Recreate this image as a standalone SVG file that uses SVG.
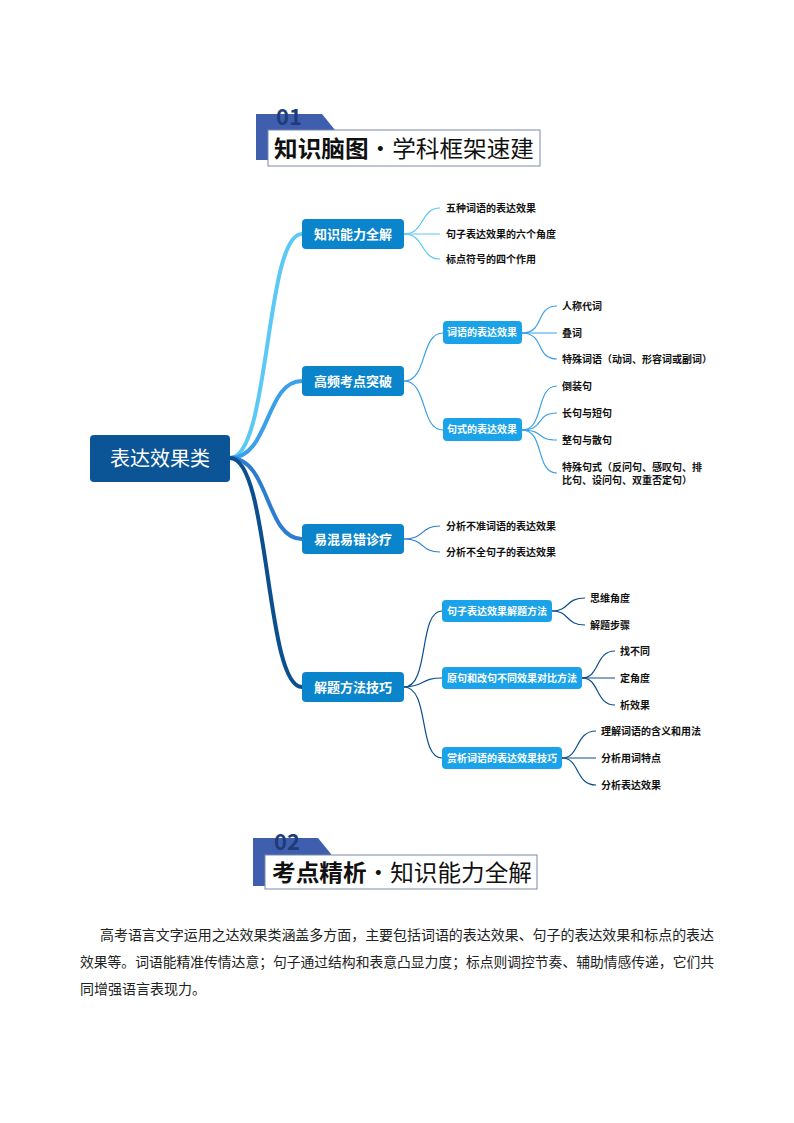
<svg xmlns="http://www.w3.org/2000/svg" width="794" height="1123" viewBox="0 0 794 1123">
<style>
text{font-family:"Noto Sans CJK SC","Noto Sans",sans-serif}
.l1{fill:#0A84CB}
.l2{fill:#1AA3E8}
.t1{fill:#fff;font-size:13px;font-weight:bold}
.t2{fill:#fff;font-size:10px;font-weight:bold}
.lf{fill:#111;font-size:10px;font-weight:bold}
.c{fill:none}
.hd{font-size:23px;fill:#111}
.p{font-size:14px;fill:#222}
</style>
<rect width="794" height="1123" fill="#fff"/>
<g id="header1">
<polygon points="256,114 322,114 335,130 335,160 256,160" fill="#3F5FAE"/>
<text x="276" y="125" font-size="22" font-weight="bold" fill="#1F3C7A" font-family="Liberation Sans,sans-serif">01</text>
<rect x="268" y="130" width="272" height="36" fill="#fff" stroke="#7A8AA8"/>
<text x="274" y="157" class="hd" textLength="260" lengthAdjust="spacingAndGlyphs"><tspan font-weight="bold">知识脑图</tspan>·学科框架速建</text>
</g>
<g id="connectors">
<path class="c" d="M230,458 C270,458 265,234 302,234" stroke="#5CC8F5" stroke-width="4"/>
<path class="c" d="M230,458 C270,458 265,381 302,381" stroke="#3AA0EA" stroke-width="4"/>
<path class="c" d="M230,458 C270,458 265,539 302,539" stroke="#2C7DD0" stroke-width="4"/>
<path class="c" d="M230,458 C270,458 265,687 302,687" stroke="#0B4F8F" stroke-width="4"/>
<g stroke="#5CC8F5" stroke-width="1.2">
<path class="c" d="M404,234 C425,234 420,208 440,208"/>
<path class="c" d="M404,234 L440,234"/>
<path class="c" d="M404,234 C425,234 420,259 440,259"/>
</g>
<g stroke="#3AA0EA" stroke-width="1.2">
<path class="c" d="M404,381 C428,381 420,333 443,333"/>
<path class="c" d="M404,381 C428,381 420,430 443,430"/>
<path class="c" d="M522,333 C545,333 535,306 557,306"/>
<path class="c" d="M522,333 L557,333"/>
<path class="c" d="M522,333 C545,333 535,359 557,359"/>
<path class="c" d="M522,430 C545,430 535,386 557,386"/>
<path class="c" d="M522,430 C545,430 535,413 557,413"/>
<path class="c" d="M522,430 C545,430 535,440 557,440"/>
<path class="c" d="M522,430 C545,430 535,473 557,473"/>
</g>
<g stroke="#2C7DD0" stroke-width="1.2">
<path class="c" d="M404,539 C425,539 420,526 440,526"/>
<path class="c" d="M404,539 C425,539 420,552 440,552"/>
</g>
<g stroke="#0B4F8F" stroke-width="1.2">
<path class="c" d="M404,687 C430,687 418,611 442,611"/>
<path class="c" d="M404,687 C425,687 420,678 442,678"/>
<path class="c" d="M404,687 C430,687 418,758 442,758"/>
<path class="c" d="M552,611 C570,611 565,598 585,598"/>
<path class="c" d="M552,611 C570,611 565,625 585,625"/>
<path class="c" d="M582,678 C600,678 595,651 615,651"/>
<path class="c" d="M582,678 L615,678"/>
<path class="c" d="M582,678 C600,678 595,705 615,705"/>
<path class="c" d="M562,758 C580,758 575,731 596,731"/>
<path class="c" d="M562,758 L596,758"/>
<path class="c" d="M562,758 C580,758 575,785 596,785"/>
</g>
</g>
<g id="root"><rect x="90" y="435" width="140" height="47" rx="4" fill="#0B5597"/><text x="160" y="466" text-anchor="middle" font-size="20" fill="#fff">表达效果类</text></g>
<g id="n1"><rect class="l1" x="302" y="219" width="102" height="30" rx="4"/><text class="t1" x="353" y="239" text-anchor="middle">知识能力全解</text></g>
<g id="n2"><rect class="l1" x="302" y="366" width="102" height="30" rx="4"/><text class="t1" x="353" y="386" text-anchor="middle">高频考点突破</text></g>
<g id="n3"><rect class="l1" x="302" y="524" width="102" height="30" rx="4"/><text class="t1" x="353" y="544" text-anchor="middle">易混易错诊疗</text></g>
<g id="n4"><rect class="l1" x="302" y="672" width="102" height="30" rx="4"/><text class="t1" x="353" y="692" text-anchor="middle">解题方法技巧</text></g>
<g id="s1"><rect class="l2" x="443" y="321" width="79" height="23" rx="4"/><text class="t2" x="482" y="336" text-anchor="middle">词语的表达效果</text></g>
<g id="s2"><rect class="l2" x="443" y="418" width="79" height="23" rx="4"/><text class="t2" x="482" y="433" text-anchor="middle">句式的表达效果</text></g>
<g id="s3"><rect class="l2" x="442" y="600" width="110" height="22" rx="4"/><text class="t2" x="497" y="615" text-anchor="middle">句子表达效果解题方法</text></g>
<g id="s4"><rect class="l2" x="442" y="667" width="140" height="22" rx="4"/><text class="t2" x="512" y="682" text-anchor="middle">原句和改句不同效果对比方法</text></g>
<g id="s5"><rect class="l2" x="442" y="747" width="120" height="22" rx="4"/><text class="t2" x="502" y="762" text-anchor="middle">赏析词语的表达效果技巧</text></g>
<g id="leaves">
<text class="lf" x="446" y="212">五种词语的表达效果</text>
<text class="lf" x="446" y="238">句子表达效果的六个角度</text>
<text class="lf" x="446" y="263">标点符号的四个作用</text>
<text class="lf" x="562" y="310">人称代词</text>
<text class="lf" x="562" y="337">叠词</text>
<text class="lf" x="562" y="363">特殊词语（动词、形容词或副词）</text>
<text class="lf" x="562" y="390">倒装句</text>
<text class="lf" x="562" y="417">长句与短句</text>
<text class="lf" x="562" y="444">整句与散句</text>
<text class="lf" x="562" y="471">特殊句式（反问句、感叹句、排</text>
<text class="lf" x="562" y="484">比句、设问句、双重否定句）</text>
<text class="lf" x="446" y="530">分析不准词语的表达效果</text>
<text class="lf" x="446" y="556">分析不全句子的表达效果</text>
<text class="lf" x="590" y="602">思维角度</text>
<text class="lf" x="590" y="629">解题步骤</text>
<text class="lf" x="620" y="655">找不同</text>
<text class="lf" x="620" y="682">定角度</text>
<text class="lf" x="620" y="709">析效果</text>
<text class="lf" x="601" y="735">理解词语的含义和用法</text>
<text class="lf" x="601" y="762">分析用词特点</text>
<text class="lf" x="601" y="789">分析表达效果</text>
</g>
<g id="header2">
<polygon points="253,838 318,838 331,854 331,886 253,886" fill="#3F5FAE"/>
<text x="274" y="850" font-size="22" font-weight="bold" fill="#1F3C7A" font-family="Liberation Sans,sans-serif">02</text>
<rect x="265" y="855" width="272" height="34" fill="#fff" stroke="#7A8AA8"/>
<text x="272" y="881" class="hd" textLength="260" lengthAdjust="spacingAndGlyphs"><tspan font-weight="bold">考点精析</tspan>·知识能力全解</text>
</g>
<g id="para">
<text class="p" x="100" y="940" textLength="614" lengthAdjust="spacingAndGlyphs">高考语言文字运用之达效果类涵盖多方面，主要包括词语的表达效果、句子的表达效果和标点的表达</text>
<text class="p" x="80" y="967" textLength="634" lengthAdjust="spacingAndGlyphs">效果等。词语能精准传情达意；句子通过结构和表意凸显力度；标点则调控节奏、辅助情感传递，它们共</text>
<text class="p" x="80" y="994">同增强语言表现力。</text>
</g>
</svg>
